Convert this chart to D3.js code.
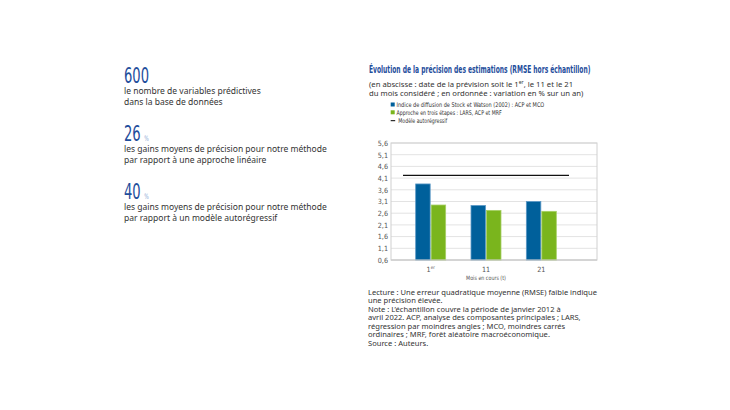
<!DOCTYPE html>
<html>
<head>
<meta charset="utf-8">
<script src="https://cdn.jsdelivr.net/npm/d3@7"></script>
<style>
	body { margin: 0; background: #ffffff; }
	svg { display: block; }
	.body { font-family: "Noto Sans", sans-serif; fill: #333333; }
	.narrow { font-family: "DejaVu Sans Condensed", "DejaVu Sans", sans-serif; font-stretch: condensed; }
</style>
</head>
<body>
<svg width="730" height="410"></svg>
<script>

// chiffres clés
var keyNumbers = ["600", "26", "40"];
var keyUnits = ["", "%", "%"];
var keyLines = [
	["le nombre de variables prédictives", "dans la base de données"],
	["les gains moyens de précision pour notre méthode", "par rapport à une approche linéaire"],
	["les gains moyens de précision pour notre méthode", "par rapport à un modèle autorégressif"]
];

// graphique
var categories = ["1er", "11", "21"];
var diffusion = [3.85, 2.93, 3.1];
var troisEtapes = [2.95, 2.72, 2.68];
var autoregressif = 4.22;
var yTicks = [0.6, 1.1, 1.6, 2.1, 2.6, 3.1, 3.6, 4.1, 4.6, 5.1, 5.6];
var legendLabels = [
	"Indice de diffusion de Stock et Watson (2002) : ACP et MCO",
	"Approche en trois étapes : LARS, ACP et MRF",
	"Modèle autorégressif"
];
var notes = [
	"Lecture : Une erreur quadratique moyenne (RMSE) faible indique",
	"une précision élevée.",
	"Note : L’échantillon couvre la période de janvier 2012 à",
	"avril 2022. ACP, analyse des composantes principales ; LARS,",
	"régression par moindres angles ; MCO, moindres carrés",
	"ordinaires ; MRF, forêt aléatoire macroéconomique.",
	"Source : Auteurs."
];

var blue = "#00609b";
var green = "#7ab51d";
var titleBlue = "#1f4e9c";

var svg = d3.select("svg");

// ramène un texte à la largeur w (la police condensée d'origine manque)
function squeeze(t, w) {
	var n = t.node().getComputedTextLength();
	var x = +t.attr("x"), y = +t.attr("y");
	t.attr("x", 0).attr("y", 0)
		.attr("transform", "translate(" + x + "," + y + ") scale(" + (w / n) + ",1)");
	return t;
}

// même facteur pour un bloc de lignes, calé sur la ligne ref
function fitBlock(lines, ref, w) {
	var f = w / ref.node().getComputedTextLength();
	lines.forEach(function(t) {
		squeeze(t, t.node().getComputedTextLength() * f);
	});
}

///////////////////////////////////////////////////

var keyTop = [82.5, 140.5, 198.5];
var keyWidth = [25, 16.7, 16.7];
var bodyLines = [];

keyNumbers.forEach(function(n, i) {
	var t = svg.append("text")
		.attr("class", "narrow")
		.attr("x", 124)
		.attr("y", keyTop[i])
		.style("font-size", "22px")
		.style("fill", titleBlue)
		.text(n);
	squeeze(t, keyWidth[i]);
	if (keyUnits[i]) {
		squeeze(svg.append("text")
			.attr("class", "narrow")
			.attr("x", 124 + keyWidth[i] + 3.5)
			.attr("y", keyTop[i])
			.style("font-size", "7.5px")
			.style("fill", "#8aa6d4")
			.text(keyUnits[i]), 4.5);
	}
	keyLines[i].forEach(function(l, j) {
		bodyLines.push(svg.append("text")
			.attr("class", "body")
			.attr("x", 124)
			.attr("y", keyTop[i] + 11.8 + j * 10.2)
			.style("font-size", "8px")
			.text(l));
	});
});

fitBlock(bodyLines, bodyLines[2], 203);

///////////////////////////////////////////////////

squeeze(svg.append("text")
	.attr("class", "narrow")
	.attr("x", 369)
	.attr("y", 73)
	.style("font-size", "10.5px")
	.style("font-weight", "bold")
	.style("fill", titleBlue)
	.text("Évolution de la précision des estimations (RMSE hors échantillon)"), 222);

var sub1 = svg.append("text")
	.attr("class", "body")
	.attr("x", 369)
	.attr("y", 86.5)
	.style("font-size", "7.7px");
sub1.append("tspan").text("(en abscisse : date de la prévision soit le 1");
sub1.append("tspan").attr("dy", -2.5).style("font-size", "5px").text("er");
sub1.append("tspan").attr("dy", 2.5).text(", le 11 et le 21");

svg.append("text")
	.attr("class", "body")
	.attr("x", 369)
	.attr("y", 95.5)
	.style("font-size", "7.7px")
	.text("du mois considéré ; en ordonnée : variation en % sur un an)");

///////////////////////////////////////////////////

var legendY = [104.7, 112.5, 120.7];
var legendWidth = [148, 105, 49];

legendLabels.forEach(function(l, i) {
	if (i < 2) {
		svg.append("rect")
			.attr("x", 390.7)
			.attr("y", legendY[i] - 2.2)
			.attr("width", 4)
			.attr("height", 4)
			.style("fill", i == 0 ? blue : green);
	} else {
		svg.append("line")
			.attr("x1", 390.7)
			.attr("x2", 395.2)
			.attr("y1", legendY[i])
			.attr("y2", legendY[i])
			.style("stroke", "#000000")
			.style("stroke-width", 1);
	}
	squeeze(svg.append("text")
		.attr("class", "narrow")
		.attr("x", i < 2 ? 396.5 : 398.3)
		.attr("y", legendY[i] + 2.3)
		.style("font-size", "6.4px")
		.style("fill", "#333333")
		.text(l), legendWidth[i]);
});

///////////////////////////////////////////////////

var plotLeft = 391, plotRight = 597, plotTop = 143, plotBottom = 260;

var y = d3.scaleLinear()
	.domain([0.6, 5.6])
	.range([plotBottom, plotTop]);

var x = d3.scaleBand()
	.domain(categories)
	.range([403, 569])
	.paddingInner(0.44)
	.paddingOuter(0.22);

var x1 = d3.scaleBand()
	.domain([0, 1])
	.range([0, x.bandwidth()]);

// grille
svg.append("g")
	.selectAll("line")
	.data(yTicks)
	.enter()
	.append("line")
	.attr("x1", plotLeft)
	.attr("x2", plotRight)
	.attr("y1", function(d) { return y(d); })
	.attr("y2", function(d) { return y(d); })
	.style("stroke", "#e3e3e3")
	.style("stroke-width", 1);

svg.append("rect")
	.attr("x", plotLeft)
	.attr("y", plotTop)
	.attr("width", plotRight - plotLeft)
	.attr("height", plotBottom - plotTop)
	.style("fill", "none")
	.style("stroke", "#d0d0d0")
	.style("stroke-width", 1);

// axe y
var yAxis = svg.append("g")
	.attr("transform", "translate(" + plotLeft + ",0)")
	.call(d3.axisLeft(y)
		.tickValues(yTicks)
		.tickSize(0)
		.tickPadding(3)
		.tickFormat(function(d) { return d3.format(".1f")(d).replace(".", ","); }));
yAxis.select(".domain").remove();
yAxis.selectAll("text")
	.attr("class", "narrow")
	.style("font-size", "7.2px")
	.style("fill", "#555555");

// barres
var series = [diffusion, troisEtapes];
var colors = [blue, green];
var strokes = ["#5b98c6", "#a6cf66"];

series.forEach(function(s, k) {
	svg.append("g")
		.selectAll("rect")
		.data(s)
		.enter()
		.append("rect")
		.attr("x", function(d, i) { return x(categories[i]) + x1(k) + 0.5; })
		.attr("width", x1.bandwidth() - 1)
		.attr("y", function(d) { return y(d); })
		.attr("height", function(d) { return y(0.6) - y(d); })
		.style("fill", colors[k])
		.style("stroke", strokes[k])
		.style("stroke-width", 0.8);
});

// modèle autorégressif
svg.append("line")
	.attr("x1", x.range()[0])
	.attr("x2", x.range()[1])
	.attr("y1", y(autoregressif))
	.attr("y2", y(autoregressif))
	.style("stroke", "#111111")
	.style("stroke-width", 1.2);

svg.append("line")
	.attr("x1", plotLeft)
	.attr("x2", plotRight)
	.attr("y1", plotBottom)
	.attr("y2", plotBottom)
	.style("stroke", "#c8c8c8")
	.style("stroke-width", 1);

// axe x
categories.forEach(function(c) {
	var t = svg.append("text")
		.attr("class", "narrow")
		.attr("x", x(c) + x.bandwidth() / 2)
		.attr("y", 271.5)
		.attr("text-anchor", "middle")
		.style("font-size", "7.2px")
		.style("fill", "#555555");
	if (c == "1er") {
		t.append("tspan").text("1");
		t.append("tspan").attr("dy", -2.5).style("font-size", "4.5px").text("er");
	} else {
		t.text(c);
	}
});

squeeze(svg.append("text")
	.attr("class", "narrow")
	.attr("x", x(categories[1]) + x.bandwidth() / 2)
	.attr("y", 280)
	.attr("text-anchor", "middle")
	.style("font-size", "6px")
	.style("fill", "#555555")
	.text("Mois en cours (t)"), 40);

///////////////////////////////////////////////////

var noteLines = notes.map(function(l, i) {
	return svg.append("text")
		.attr("class", "body")
		.attr("x", 368)
		.attr("y", 295 + i * 8.45)
		.style("font-size", "7.2px")
		.text(l);
});

fitBlock(noteLines, noteLines[0], 229);

</script>
</body>
</html>
